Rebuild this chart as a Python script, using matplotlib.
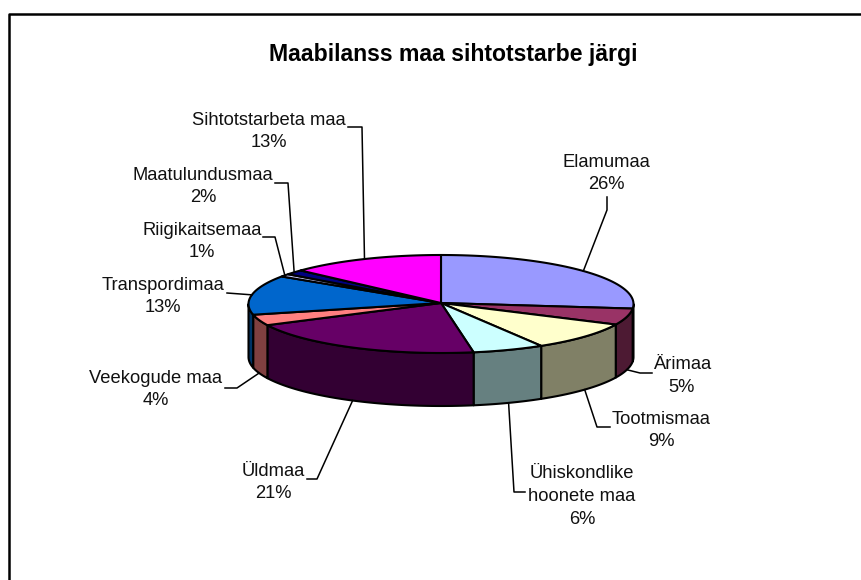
import matplotlib
matplotlib.use("Agg")
import matplotlib.pyplot as plt
import numpy as np

plt.rcParams['font.family'] = ['Liberation Sans', 'DejaVu Sans']

names = ["Elamumaa", "Ärimaa", "Tootmismaa", "Ühiskondlike\nhoonete maa", "Üldmaa",
         "Veekogude maa", "Transpordimaa", "Riigikaitsemaa", "Maatulundusmaa", "Sihtotstarbeta maa"]
shares = [26.49, 5.4, 9.4, 6.0, 20.6, 3.6, 13.0, 0.9, 1.6, 13.01]
colors = ["#9999FF", "#993366", "#FFFFCC", "#CCFFFF", "#660066",
          "#FF8080", "#0066CC", "#CCCCFF", "#000080", "#FF00FF"]
title = "Maabilanss maa sihtotstarbe järgi"

# label centre and leader bend points, pixels
label_pos = [(606, 173.5), (682, 376), (661.5, 430.5), (582, 496.5), (273, 482.5),
             (156, 389.5), (163, 296.5), (202, 241.5), (203, 186.5), (269, 131.5)]
bends = [[(607, 210), (607, 197)], [(640, 373), (652, 373)], [(597, 427), (610, 427)], [(514, 492), (525, 492)],
         [(317, 479), (307, 479)], [(237, 388), (225, 388)], [(227, 293)],
         [(275, 237), (263, 237)], [(288, 183), (275, 183)], [(362, 127), (348, 127)]]

cx, cy = 441, 304
rx, ry = 192.5, 49
depth = 53


def rim(ang, dy=0):
    # ang in degrees clockwise from 12 o'clock
    a = np.radians(ang)
    return cx + rx * np.sin(a), cy - ry * np.cos(a) + dy


fig = plt.figure(figsize=(8.62, 5.8), dpi=100)
ax = fig.add_axes([0, 0, 1, 1])
ax.set_xlim(0, 862)
ax.set_ylim(580, 0)
ax.axis('off')

# border runs off the picture at right and bottom
ax.plot([9.2, 9.2, 862], [580, 13.5, 13.5], color='black', lw=1.8)

edges = np.concatenate([[0], np.cumsum(shares)]) / sum(shares) * 360

# sides, only the front half shows
for i in range(len(shares)):
    a0, a1 = max(edges[i], 90), min(edges[i + 1], 270)
    if a1 <= a0:
        continue
    t = np.linspace(a0, a1, 60)
    xs, ys = rim(t)
    xb, yb = rim(t, depth)
    c = np.array(matplotlib.colors.to_rgb(colors[i])) / 2
    ax.fill(np.r_[xs, xb[::-1]], np.r_[ys, yb[::-1]], facecolor=c, edgecolor='black', lw=1.5, joinstyle='round')

# top faces
for i in range(len(shares)):
    t = np.linspace(edges[i], edges[i + 1], 60)
    xs, ys = rim(t)
    ax.fill(np.r_[cx, xs], np.r_[cy - 1, ys], facecolor=colors[i], edgecolor='black', lw=1.5, joinstyle='round')

# labels and leaders
for i in range(len(shares)):
    mid = (edges[i] + edges[i + 1]) / 2
    dy = depth if 90 < mid < 270 else 0
    x0, y0 = rim(mid, dy)
    pts = [(x0, y0)] + bends[i]
    ax.plot([p[0] for p in pts], [p[1] for p in pts], color='black', lw=1.1, zorder=1 if dy == 0 else 3)
    pct = round(shares[i] / sum(shares) * 100)
    ax.text(label_pos[i][0], label_pos[i][1], f"{names[i]}\n{pct}%", ha='center', va='center',
            fontsize=13.2, linespacing=1.45, color='#111111')

ax.text(453, 54.5, title, ha='center', va='center', fontsize=16.6, fontweight='bold')

fig.savefig('out.png', dpi=100)
